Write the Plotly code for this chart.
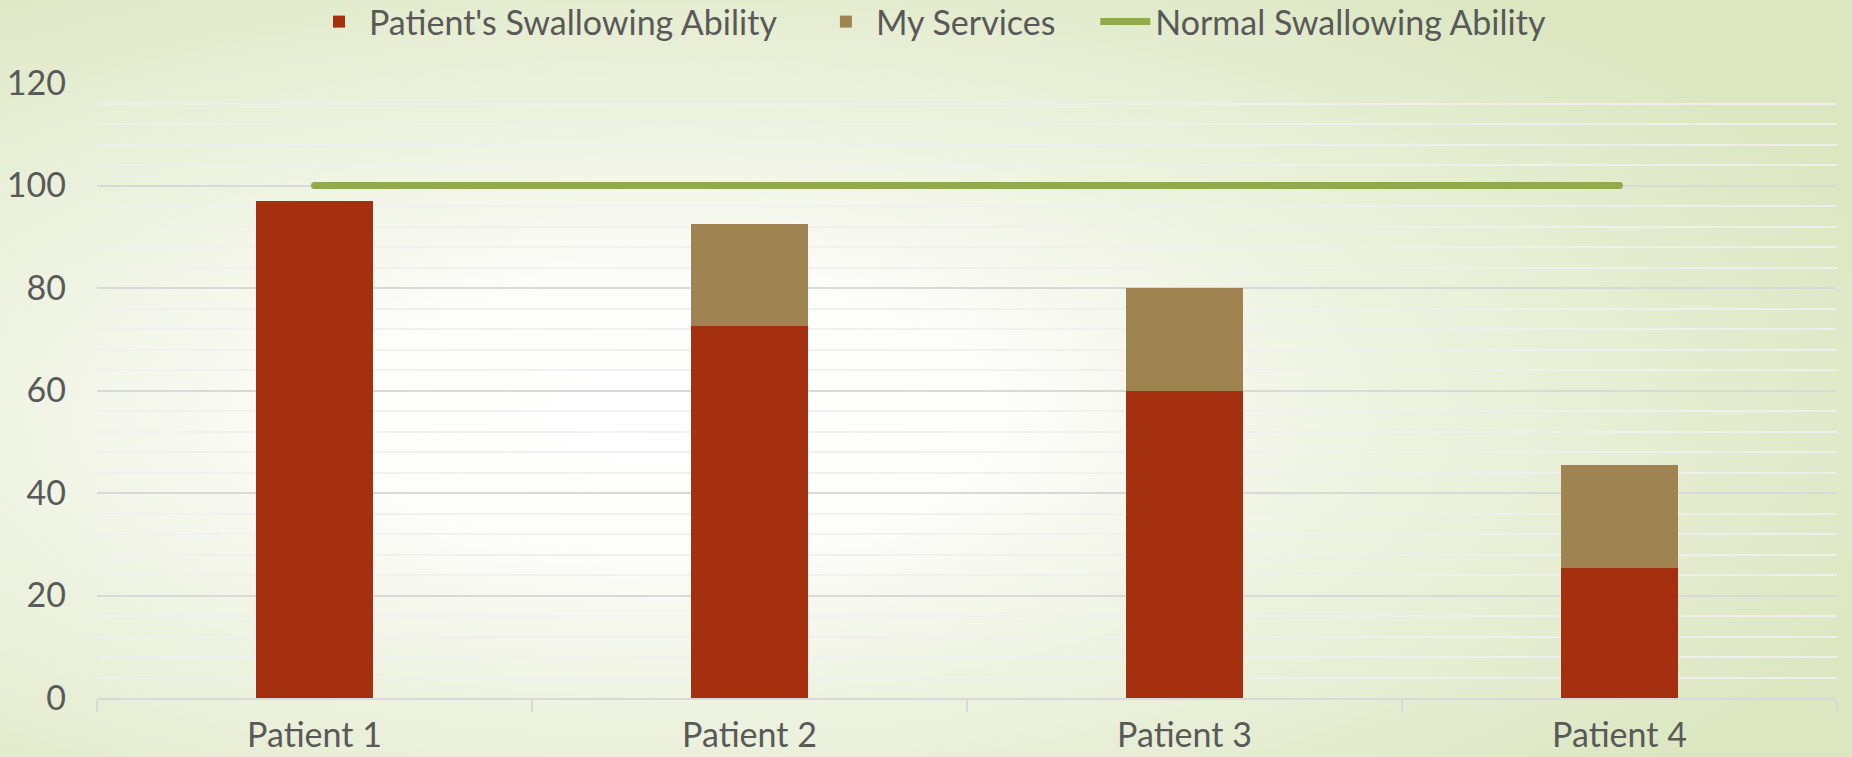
import base64
import plotly.graph_objects as go

categories = ["Patient 1", "Patient 2", "Patient 3", "Patient 4"]
swallowing = [97, 72.5, 60, 25.4]
services = [0, 20, 20, 20]
normal = [100, 100, 100, 100]

W, H = 1852, 757
ML, MR, MT, MB = 97, 15, 83, 59
PW, PH = W - ML - MR, H - MT - MB

FONT = "Lato"
TXT = "#595959"
PAD = "\u00a0" * 4

svg = f'''<svg xmlns="http://www.w3.org/2000/svg" width="{W}" height="{H}" viewBox="0 0 {W} {H}" preserveAspectRatio="none">
<defs>
<radialGradient id="g" cx="0.36" cy="0.55" r="0.7" gradientUnits="objectBoundingBox">
<stop offset="0" stop-color="#ffffff"/>
<stop offset="0.25" stop-color="#fdfdfb"/>
<stop offset="0.5" stop-color="#f0f4e4"/>
<stop offset="1" stop-color="#dce7c2"/>
</radialGradient>
</defs>
<rect x="0" y="0" width="{W}" height="{H}" fill="url(#g)"/>
</svg>'''
src = "data:image/svg+xml;base64," + base64.b64encode(svg.encode()).decode()

fig = go.Figure()
fig.add_trace(go.Bar(x=categories, y=swallowing, name="Patient's Swallowing Ability" + PAD,
                     marker=dict(color="#A53010", line=dict(width=0))))
fig.add_trace(go.Bar(x=categories, y=services, name="My Services" + PAD,
                     marker=dict(color="#9F8351", line=dict(width=0))))
fig.add_trace(go.Scatter(x=categories, y=normal, name="Normal Swallowing Ability",
                         mode="lines+markers", line=dict(color="#92AA4C", width=7),
                         marker=dict(size=7, color="#92AA4C", line=dict(width=0))))

fig.update_layout(
    width=W, height=H,
    barmode="stack", bargap=0.73,
    margin=dict(l=ML, r=MR, t=MT, b=MB, pad=0, autoexpand=False),
    paper_bgcolor="#eef3e0", plot_bgcolor="rgba(0,0,0,0)",
    font=dict(family=FONT, color=TXT, size=34),
    showlegend=True,
    legend=dict(orientation="h", x=(930 - ML) / PW, xanchor="center",
                y=1 + (MT - 22) / PH, yanchor="middle",
                font=dict(size=34, color=TXT), bgcolor="rgba(0,0,0,0)",
                itemwidth=50, traceorder="normal"),
    images=[dict(source=src, xref="paper", yref="paper",
                 x=-ML / PW, y=1 + MT / PH, sizex=W / PW, sizey=H / PH,
                 xanchor="left", yanchor="top", sizing="stretch", layer="below")],
)
fig.update_xaxes(
    showgrid=False, showline=True, linecolor="#d9d9d9", linewidth=2,
    ticks="outside", tickson="boundaries", ticklen=12, tickcolor="#d9d9d9", tickwidth=2,
    tickfont=dict(size=34, color=TXT), ticklabelstandoff=6,
)
fig.update_yaxes(
    range=[0, 120], dtick=20, tick0=0,
    showgrid=True, gridcolor="#d9d9d9", gridwidth=1.5,
    minor=dict(dtick=4, showgrid=True, gridcolor="rgba(240,240,240,0.9)", gridwidth=2),
    zeroline=False, showline=False, ticks="",
    tickfont=dict(size=34, color=TXT), ticklabelstandoff=30,
)

fig.write_html("out.html", config={"displayModeBar": False},
               post_script="document.body.style.margin='0';document.body.style.overflow='hidden';")
